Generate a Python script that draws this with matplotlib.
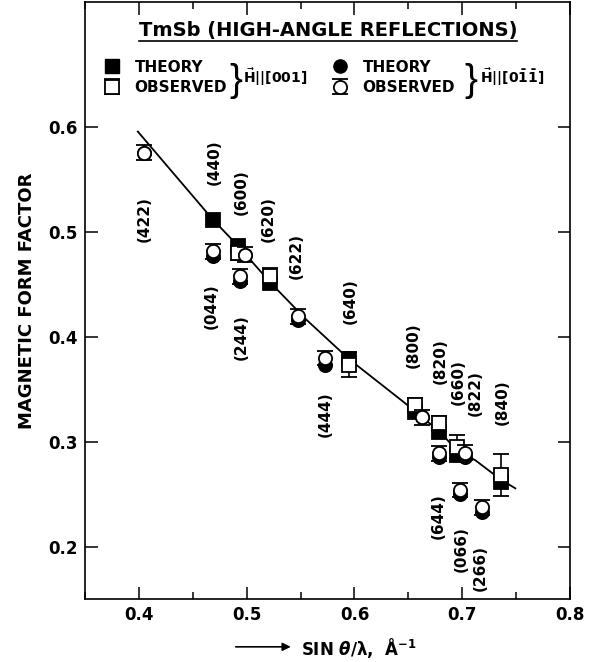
import matplotlib
matplotlib.use("Agg")
import matplotlib.pyplot as plt
from matplotlib.ticker import MultipleLocator
from matplotlib.lines import Line2D

plt.rcParams['font.family'] = ['DejaVu Sans']
plt.rcParams['font.weight'] = 'bold'
plt.rcParams['mathtext.fontset'] = 'dejavusans'

# H || [001] : squares
sq_th_x = [0.4687, 0.4919, 0.5220, 0.5949, 0.6563, 0.6786, 0.6951, 0.7363]
sq_th_y = [0.512, 0.4872, 0.4516, 0.3793, 0.329, 0.3098, 0.2876, 0.2621]
sq_obs_x = [0.4919, 0.5220, 0.5949, 0.6563, 0.6786, 0.6951, 0.7363]
sq_obs_y = [0.4802, 0.4585, 0.3738, 0.3353, 0.3179, 0.2955, 0.2685]
sq_obs_err = [0.007, 0.007, 0.012, 0.007, 0.007, 0.011, 0.020]

# H || [0-1-1] : circles
ci_x = [0.4051, 0.4687, 0.4981, 0.4935, 0.5477, 0.5726, 0.6625, 0.6780, 0.7028, 0.6981, 0.7183]
ci_th_y = [0.5757, 0.477, 0.4786, 0.4531, 0.4165, 0.3735, 0.3236, 0.2854, 0.286, 0.2503, 0.2334]
ci_obs_y = [0.5757, 0.4818, 0.4786, 0.4579, 0.4197, 0.380, 0.3236, 0.2892, 0.2898, 0.2542, 0.2376]
ci_obs_err = [0.007] * 11

# theory curve
curve_x = [0.399, 0.4687, 0.492, 0.522, 0.5555, 0.595, 0.6454, 0.679, 0.695, 0.712, 0.736, 0.7493]
curve_y = [0.596, 0.512, 0.487, 0.452, 0.4165, 0.379, 0.3383, 0.31, 0.292, 0.2827, 0.264, 0.2558]

# reflection labels
refl = ['(422)', '(440)', '(600)', '(620)', '(622)', '(640)', '(044)', '(244)', '(444)',
        '(800)', '(820)', '(660)', '(822)', '(840)', '(644)', '(066)', '(266)']
refl_x = [0.4051, 0.4702, 0.4951, 0.5198, 0.5462, 0.5958, 0.4672, 0.4951, 0.5726,
          0.6547, 0.6795, 0.6966, 0.7121, 0.7369, 0.678, 0.6991, 0.7167]
refl_y = [0.5125, 0.567, 0.5378, 0.513, 0.477, 0.4347, 0.4299, 0.4003, 0.3267,
          0.3926, 0.3767, 0.3568, 0.3468, 0.3382, 0.2293, 0.1978, 0.1797]

fig = plt.figure(figsize=(5.91, 6.62), dpi=100)
ax = fig.add_axes([85/591, 62.7/662, 485/591, 597.8/662])

ax.plot(curve_x, curve_y, color='black', lw=1.3, zorder=1)

ms_sq = 10
ms_ci = 9.5
ax.plot(sq_th_x, sq_th_y, 's', ms=ms_sq, mfc='black', mec='black', mew=1.3, zorder=2)
eb_sq = ax.errorbar(sq_obs_x, sq_obs_y, yerr=sq_obs_err, fmt='s', ms=ms_sq, mfc='white',
                    mec='black', mew=1.3, ecolor='black', elinewidth=1.2, capsize=6,
                    capthick=1.2, zorder=3)
ax.plot(ci_x, ci_th_y, 'o', ms=ms_ci, mfc='black', mec='black', mew=1.3, zorder=4)
eb_ci = ax.errorbar(ci_x, ci_obs_y, yerr=ci_obs_err, fmt='o', ms=ms_ci, mfc='white',
                    mec='black', mew=1.3, ecolor='black', elinewidth=1.2, capsize=5.5,
                    capthick=1.2, zorder=5)

for lab, x, y in zip(refl, refl_x, refl_y):
    ax.text(x, y, lab, rotation=90, ha='center', va='center', fontsize=11)

ax.set_xlim(0.35, 0.8)
ax.set_ylim(0.15, 0.72)
ax.set_xticks([0.4, 0.5, 0.6, 0.7, 0.8])
ax.set_xticklabels(['0.4', '0.5', '0.6', '0.7', '0.8'])
ax.set_yticks([0.2, 0.3, 0.4, 0.5, 0.6])
ax.set_yticklabels(['0.2', '0.3', '0.4', '0.5', '0.6'])
ax.xaxis.set_minor_locator(MultipleLocator(0.05))
ax.tick_params(which='both', direction='in', top=True, right=True, width=1.1, labelsize=12)
ax.tick_params(which='major', length=9, pad=5)
ax.tick_params(which='minor', length=5)
ax.tick_params(axis='y', which='minor', left=False, right=False)
for s in ax.spines.values():
    s.set_linewidth(1.2)

ax.set_ylabel('MAGNETIC FORM FACTOR', fontsize=13, fontweight='bold', labelpad=9)
ax.set_xlabel(r'SIN $\theta$/λ,  Å$^{-1}$', fontsize=12, fontweight='bold')
ax.xaxis.set_label_coords(0.564, -0.062)
ax.annotate('', xy=(0.43, -0.0795), xytext=(0.305, -0.0795), xycoords='axes fraction',
            arrowprops=dict(arrowstyle='-|>', color='black', lw=1.2, mutation_scale=12),
            annotation_clip=False)

# title and legend block
ax.text(0.501, 0.9507, 'TmSb (HIGH-ANGLE REFLECTIONS)', ha='center', va='center',
        fontsize=14, transform=ax.transAxes)
ax.plot([0.111, 0.891], [0.934, 0.934], color='black', lw=1.2, transform=ax.transAxes,
        clip_on=False)

h_th_sq = Line2D([], [], ls='none', marker='s', ms=ms_sq, mfc='black', mec='black')
h_th_ci = Line2D([], [], ls='none', marker='o', ms=ms_ci, mfc='black', mec='black')
leg1 = ax.legend([h_th_sq, eb_sq], ['THEORY', 'OBSERVED'], loc='center left',
                 bbox_to_anchor=(0.039, 0.8729), frameon=False, fontsize=11,
                 handlelength=1.0, handletextpad=1.0, labelspacing=0.35,
                 borderpad=0, borderaxespad=0)
ax.add_artist(leg1)
ax.legend([h_th_ci, eb_ci], ['THEORY', 'OBSERVED'], loc='center left',
          bbox_to_anchor=(0.509, 0.8729), frameon=False, fontsize=11,
          handlelength=1.0, handletextpad=1.0, labelspacing=0.35,
          borderpad=0, borderaxespad=0)

brace_font = dict(family=['Liberation Sans', 'DejaVu Sans'], fontweight='normal', fontsize=28)
ax.text(0.3105, 0.867, '}', ha='center', va='center', transform=ax.transAxes, **brace_font)
ax.text(0.7965, 0.867, '}', ha='center', va='center', transform=ax.transAxes, **brace_font)
ax.text(0.325, 0.8737, r'$\vec{\mathbf{H}}$||[001]', ha='left', va='center', fontsize=10,
        transform=ax.transAxes)
ax.text(0.8144, 0.8737, r'$\vec{\mathbf{H}}$||[0$\mathbf{\bar{1}\bar{1}}$]', ha='left',
        va='center', fontsize=10, transform=ax.transAxes)

fig.savefig('out.png', dpi=100)
